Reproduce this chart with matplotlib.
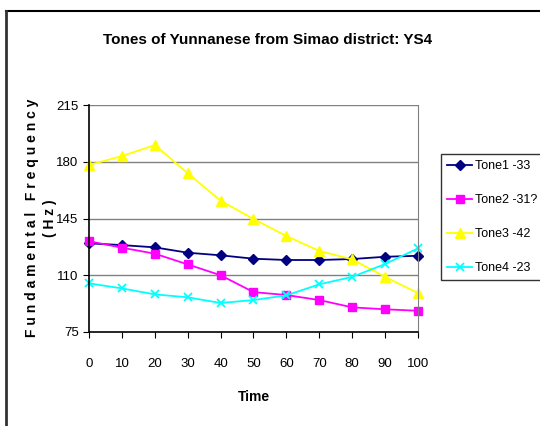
import matplotlib
matplotlib.use("Agg")
from matplotlib import pyplot as plt
from matplotlib.lines import Line2D

# data
time_pts = [0, 10, 20, 30, 40, 50, 60, 70, 80, 90, 100]
tone1 = [129.7, 128.6, 127.2, 123.9, 122.3, 120.2, 119.4, 119.4, 120.0, 121.4, 122.0]
tone2 = [131.0, 127.0, 123.3, 116.7, 110.0, 99.6, 97.8, 94.7, 90.2, 89.0, 88.1]
tone3 = [178.0, 183.5, 190.3, 172.9, 156.0, 144.7, 134.2, 125.0, 119.8, 109.0, 99.0]
tone4 = [105.0, 101.9, 98.2, 96.4, 92.9, 94.7, 97.6, 104.4, 109.0, 116.9, 126.6]
labels = ["Tone1 -33", "Tone2 -31?", "Tone3 -42", "Tone4 -23"]
yticks = [75, 110, 145, 180, 215]

plt.rcParams['font.family'] = ['Liberation Sans', 'DejaVu Sans']

W, H = 540, 426
fig = plt.figure(figsize=(W/100, H/100), dpi=100)

def fx(px):
    return px / W

def fy(py):
    return 1 - py / H

# outer chart border
fig.add_artist(Line2D([fx(6), 1], [fy(11), fy(11)], color='black', lw=1.5, transform=fig.transFigure))
fig.add_artist(Line2D([fx(6), fx(6)], [fy(11), 0], color='#333333', lw=2, transform=fig.transFigure))

ax = fig.add_axes([fx(89), fy(332), fx(418) - fx(89), fy(105) - fy(332)])

styles = [
    dict(color='#000080', marker='D', ms=5),
    dict(color='#FF00FF', marker='s', ms=6),
    dict(color='#FFFF00', marker='^', ms=7),
    dict(color='#00FFFF', marker='x', ms=6, mew=1.3),
]
for vals, lab, st in zip([tone1, tone2, tone3, tone4], labels, styles):
    ax.plot(time_pts, vals, lw=1.3, label=lab, **st, clip_on=False)

ax.set_xlim(0, 100)
ax.set_ylim(75, 215)
ax.set_xticks(time_pts)
ax.set_yticks(yticks)
for y in yticks[1:]:
    ax.axhline(y, color='#808080', lw=1, zorder=0)
ax.spines['top'].set_visible(False)
ax.spines['right'].set_color('#808080')
ax.spines['left'].set_linewidth(1.2)
ax.spines['bottom'].set_linewidth(1.2)
ax.tick_params(axis='both', labelsize=9.5, direction='out', length=4)
ax.tick_params(axis='x', pad=15)

ax.set_xlabel("Time", fontsize=10, fontweight='bold', labelpad=14)
fig.text(fx(32), fy(218), "F u n d a m e n t a l   F r e q u e n c y", rotation=90,
         ha='center', va='center', fontsize=10, fontweight='bold')
fig.text(fx(50), fy(218), "( H z )", rotation=90,
         ha='center', va='center', fontsize=10, fontweight='bold')

fig.text(fx(268), fy(40), "Tones of Yunnanese from Simao district: YS4",
         ha='center', va='center', fontsize=11, fontweight='bold')

leg = fig.legend(loc='upper left', bbox_to_anchor=(fx(441), fy(154)), fontsize=9,
                 frameon=True, fancybox=False, edgecolor='black', borderaxespad=0,
                 labelspacing=1.75, handlelength=2.0, handletextpad=0.2, borderpad=0.5)
leg.get_frame().set_linewidth(1)

fig.savefig("out.png", dpi=100)
